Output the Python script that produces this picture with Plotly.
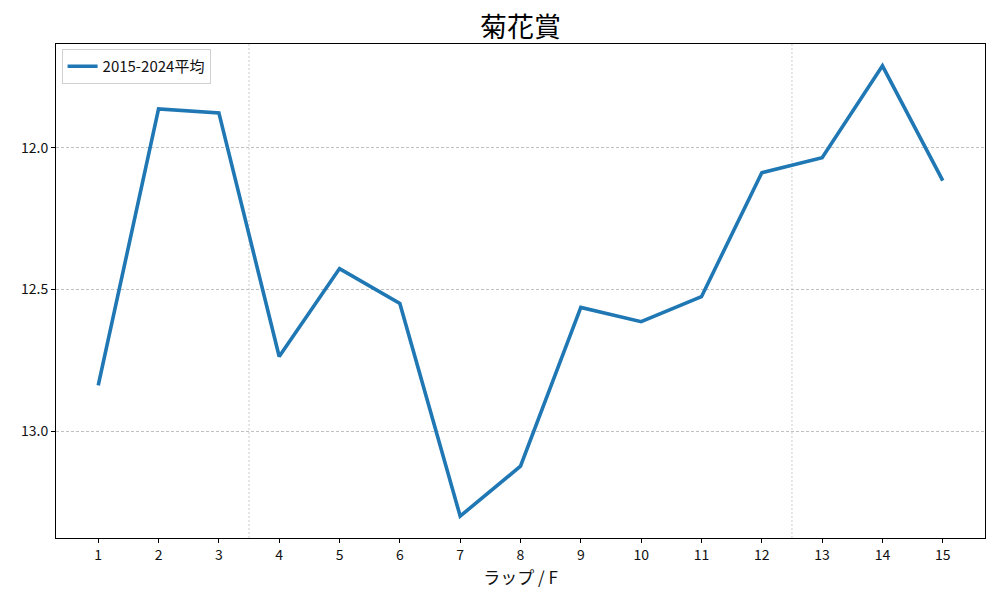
import plotly.graph_objects as go

laps = list(range(1, 16))
avg_times = [12.838, 11.863, 11.877, 12.736, 12.426, 12.549, 13.299, 13.123,
             12.563, 12.613, 12.525, 12.088, 12.035, 11.711, 12.116]
y_ticks = [12.0, 12.5, 13.0]
y_tick_labels = ["12.0", "12.5", "13.0"]
section_lines = [3.5, 12.5]

FONT = "Noto Sans CJK JP, DejaVu Sans, sans-serif"

fig = go.Figure()
fig.add_trace(go.Scatter(
    x=laps, y=avg_times, mode="lines", name="2015-2024平均",
    line=dict(color="#1f77b4", width=3.6),
))

for xv in section_lines:
    fig.add_vline(x=xv, line=dict(color="#c0c0c0", width=0.8, dash="2px,2px"), layer="below")

# page body has an 8px default margin, so the figure is sized/offset to compensate
fig.update_layout(
    width=992, height=592,
    paper_bgcolor="white", plot_bgcolor="white",
    margin=dict(l=48, r=15, t=36, b=62, autoexpand=False),
    font=dict(family=FONT, size=14, color="#111111"),
    title=dict(text="菊花賞", xref="paper", x=0.5, xanchor="center", y=0.967, yanchor="middle",
               font=dict(family=FONT, size=27, color="#000000")),
    showlegend=True,
    legend=dict(x=0.006, y=0.99, xanchor="left", yanchor="top",
                bgcolor="rgba(255,255,255,0.8)", bordercolor="#d0d0d0", borderwidth=1,
                itemwidth=30,
                font=dict(family=FONT, size=15)),
    xaxis=dict(
        range=[0.3, 15.7], tickmode="array", tickvals=laps,
        ticktext=[str(v) for v in laps],
        showgrid=False, zeroline=False,
        showline=True, linecolor="black", linewidth=1, mirror=True,
        ticks="outside", ticklen=4, tickcolor="black",
        title=dict(text="ラップ / F", font=dict(family=FONT, size=17), standoff=4),
    ),
    yaxis=dict(
        range=[13.376, 11.634], tickmode="array", tickvals=y_ticks, ticktext=y_tick_labels,
        showgrid=True, gridcolor="#c0c0c0", gridwidth=0.6, griddash="3px,2px",
        zeroline=False,
        showline=True, linecolor="black", linewidth=1, mirror=True,
        ticks="outside", ticklen=4, tickcolor="black",
    ),
)

fig.write_html("out.html")
